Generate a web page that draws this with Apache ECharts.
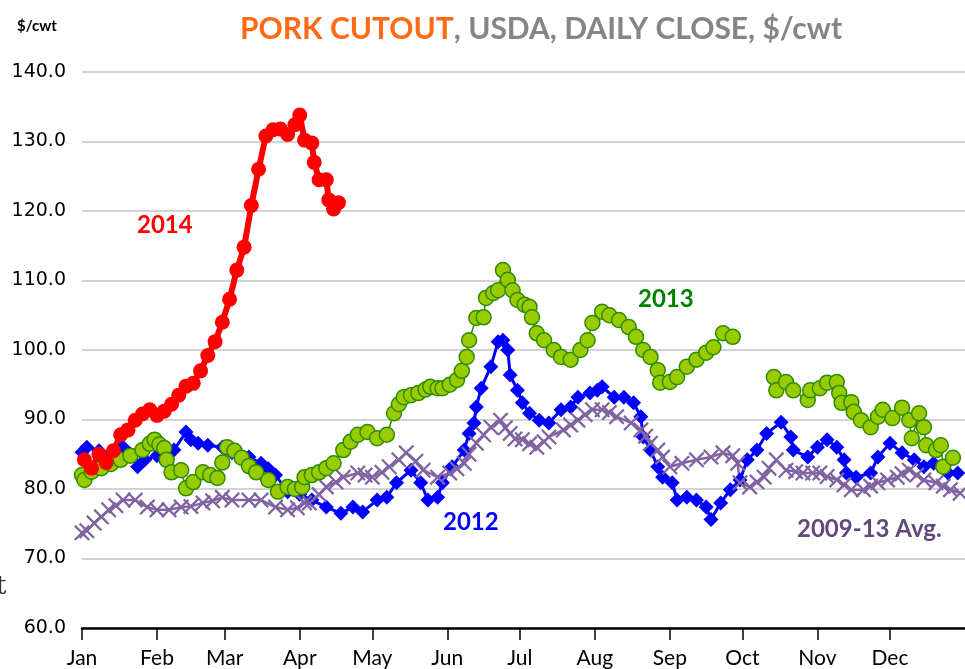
<!DOCTYPE html>
<html>
<head>
<meta charset="utf-8">
<script src="https://cdn.jsdelivr.net/npm/echarts@6/dist/echarts.min.js"></script>
<style>
  html, body { margin: 0; padding: 0; background: #fff; }
  #chart { width: 965px; height: 669px; }
</style>
</head>
<body>
<div id="chart"></div>
<script>
// month ticks (day of year where each month starts)
var months = ['Jan', 'Feb', 'Mar', 'Apr', 'May', 'Jun', 'Jul', 'Aug', 'Sep', 'Oct', 'Nov', 'Dec'];
var monthStart = [0, 31, 59, 90, 120, 151, 181, 212, 243, 273, 304, 334];

// 2014 daily close, $/cwt
var days2014 = [1, 4, 7, 10, 13, 16, 19, 22, 25, 28, 31, 34, 37, 40, 43, 46, 49, 52, 55, 58, 61, 64, 67, 70, 73, 76, 79, 82, 85, 88, 90, 92, 95, 96, 98, 101, 102, 104, 106];
var pork2014 = [84.2, 83.0, 85.0, 83.8, 85.5, 87.8, 88.5, 89.9, 90.8, 91.4, 90.6, 91.2, 92.2, 93.5, 94.8, 95.2, 97.0, 99.2, 101.2, 104.0, 107.3, 111.5, 114.8, 120.8, 126.0, 130.8, 131.7, 131.8, 131.0, 132.4, 133.8, 130.2, 129.8, 127.0, 124.5, 124.5, 121.6, 120.3, 121.2];

// 2013 (gap = no quotes in early October)
var days2013 = [0, 1, 4, 8, 12, 16, 20, 25, 28, 30, 32, 34, 35, 37, 41, 43, 46, 50, 53, 56, 58, 60, 63, 66, 69, 72, 77, 81, 85, 88, 91, 92, 95, 98, 101, 104, 108, 111, 114, 118, 122, 126, 129, 131, 133, 136, 139, 142, 144, 147, 149, 152, 155, 157, 159, 160, 163, 166, 167, 170, 172, 174, 176, 178, 180, 183, 185, 186, 188, 191, 195, 198, 202, 206, 209, 211, 215, 218, 222, 226, 229, 232, 235, 238, 239, 243, 246, 250, 254, 258, 261, 265, 269, 277, 286, 287, 291, 294, 300, 301, 305, 308, 312, 313, 314, 318, 319, 322, 326, 329, 331, 335, 339, 342, 343, 346, 348, 349, 353, 355, 356, 360];
var pork2013 = [82.0, 81.3, 82.5, 83.0, 83.6, 84.2, 84.8, 85.6, 86.5, 87.1, 86.4, 85.9, 84.2, 82.4, 82.7, 80.1, 81.0, 82.4, 82.0, 81.6, 83.8, 86.0, 85.5, 84.5, 83.3, 82.4, 81.3, 79.6, 80.3, 80.0, 80.3, 81.7, 82.0, 82.4, 83.0, 83.7, 85.6, 86.8, 87.8, 88.2, 87.3, 87.8, 90.9, 92.2, 93.2, 93.5, 93.8, 94.3, 94.7, 94.5, 94.5, 95.0, 95.7, 97.0, 99.0, 101.4, 104.6, 104.7, 107.5, 108.2, 108.6, 111.5, 110.1, 108.6, 107.2, 106.5, 106.2, 104.7, 102.4, 101.4, 100.0, 99.0, 98.6, 100.0, 101.4, 103.9, 105.5, 105.0, 104.3, 103.3, 101.9, 100.0, 99.0, 97.1, 95.3, 95.4, 96.1, 97.6, 98.6, 99.6, 100.4, 102.4, 101.9, null, 96.1, 94.2, 95.4, 94.2, 92.8, 94.2, 94.5, 95.3, 95.4, 93.8, 92.4, 92.5, 91.1, 89.9, 88.9, 90.4, 91.4, 90.2, 91.7, 89.9, 87.3, 90.9, 88.9, 86.3, 85.6, 86.3, 83.2, 84.5];

// 2012
var days2012 = [0, 2, 7, 12, 17, 20, 23, 26, 31, 36, 38, 43, 45, 48, 52, 58, 62, 65, 69, 74, 77, 80, 85, 90, 95, 101, 107, 112, 116, 122, 126, 130, 136, 140, 143, 147, 149, 153, 158, 160, 162, 163, 165, 169, 172, 174, 176, 177, 180, 182, 185, 189, 193, 198, 202, 205, 210, 213, 215, 220, 224, 228, 231, 232, 235, 238, 240, 244, 246, 250, 254, 258, 260, 264, 268, 272, 275, 279, 283, 289, 293, 294, 300, 304, 308, 312, 315, 316, 320, 326, 329, 334, 339, 344, 348, 352, 358, 362];
var pork2012 = [85.3, 86.0, 85.5, 85.0, 86.0, 85.0, 83.2, 84.2, 84.8, 85.2, 85.6, 88.2, 87.1, 86.6, 86.3, 86.0, 85.2, 84.8, 84.6, 83.7, 82.9, 82.0, 79.6, 79.2, 78.4, 77.4, 76.5, 77.4, 76.7, 78.4, 78.8, 80.9, 82.7, 80.9, 78.4, 78.8, 80.9, 83.2, 85.6, 88.0, 89.5, 91.8, 94.5, 97.6, 101.2, 101.4, 100.0, 96.4, 94.2, 92.4, 90.9, 89.9, 89.5, 91.4, 91.8, 93.2, 93.8, 94.2, 94.7, 93.2, 93.2, 92.4, 90.4, 87.5, 85.6, 83.2, 81.7, 80.9, 78.4, 78.8, 78.4, 77.4, 75.6, 78.0, 79.9, 81.3, 84.2, 85.6, 88.0, 89.6, 87.5, 85.6, 84.6, 86.0, 87.1, 86.0, 84.2, 82.3, 81.7, 82.3, 84.6, 86.6, 85.2, 84.2, 83.2, 83.7, 82.3, 82.3];

// 2009-13 average
var daysAvg = [0, 2, 5, 8, 11, 14, 17, 22, 27, 31, 36, 41, 45, 50, 54, 58, 62, 69, 74, 80, 85, 89, 92, 94, 98, 101, 105, 108, 114, 117, 120, 124, 127, 131, 134, 138, 141, 147, 152, 155, 158, 160, 163, 166, 169, 173, 175, 177, 179, 182, 185, 188, 191, 193, 199, 202, 205, 208, 211, 215, 218, 221, 227, 231, 233, 235, 238, 240, 243, 248, 254, 260, 265, 269, 271, 272, 276, 279, 282, 284, 287, 291, 295, 298, 302, 305, 308, 312, 315, 318, 323, 326, 329, 333, 337, 339, 342, 345, 348, 353, 356, 359, 363];
var porkAvg = [73.7, 74.0, 75.1, 76.0, 77.0, 77.6, 78.4, 78.4, 77.4, 77.0, 77.0, 77.4, 77.5, 78.0, 78.3, 78.8, 78.4, 78.4, 78.4, 77.4, 77.0, 77.3, 78.0, 78.0, 79.2, 80.3, 81.0, 81.7, 82.3, 82.0, 81.7, 82.4, 83.2, 84.2, 85.2, 84.0, 82.7, 81.7, 82.3, 82.9, 83.7, 85.0, 86.6, 87.8, 88.9, 89.9, 88.8, 88.0, 87.2, 87.1, 86.5, 86.0, 86.8, 87.5, 88.5, 89.2, 89.9, 90.7, 91.4, 91.4, 91.0, 90.4, 89.5, 88.5, 87.6, 86.6, 85.6, 84.6, 83.2, 83.7, 84.2, 84.6, 85.2, 84.8, 83.7, 80.9, 80.3, 81.0, 81.7, 83.0, 84.2, 82.7, 82.5, 82.3, 82.3, 82.3, 81.8, 81.3, 80.6, 79.9, 79.9, 80.4, 80.9, 81.3, 81.7, 82.2, 82.7, 82.0, 81.3, 80.9, 80.4, 79.9, 79.4];

function pairs(days, vals) {
  return days.map(function (d, i) {
    return [d, vals[i] === null ? '-' : vals[i]];
  });
}

// thin "x" marker like the spreadsheet one
var xMark = 'path://M0,1 L1,0 L5,4 L9,0 L10,1 L6,5 L10,9 L9,10 L5,6 L1,10 L0,9 L4,5 Z';

var chart = echarts.init(document.getElementById('chart'));

chart.setOption({
  animation: false,
  backgroundColor: '#fff',
  title: {
    text: '{a|PORK CUTOUT}{b|, USDA, DAILY CLOSE, $/cwt}',
    left: 536,
    top: 9,
    textAlign: 'center',
    textStyle: {
      rich: {
        a: { color: '#FF6A13', fontSize: 30, fontWeight: 'bold', fontFamily: 'Lato' },
        b: { color: '#858585', fontSize: 30, fontWeight: 'bold', fontFamily: 'Lato' }
      }
    }
  },
  grid: { left: 82, right: 0, top: 72, bottom: 41, containLabel: false },
  xAxis: {
    type: 'value',
    min: 0,
    max: 365,
    axisLine: { show: true, lineStyle: { color: '#000', width: 2.5 } },
    axisTick: { show: true, customValues: monthStart, length: 12, inside: false, lineStyle: { color: '#000', width: 1.5 } },
    axisLabel: {
      customValues: monthStart,
      margin: 20,
      color: '#000',
      fontSize: 21,
      fontFamily: 'Lato',
      formatter: function (v) { return months[monthStart.indexOf(v)]; }
    },
    splitLine: { show: false }
  },
  yAxis: {
    type: 'value',
    min: 60,
    max: 140,
    interval: 10,
    axisLine: { show: false },
    axisTick: { show: false },
    axisLabel: {
      color: '#000',
      fontSize: 19,
      fontFamily: 'DejaVu Sans',
      margin: 16,
      formatter: function (v) { return v.toFixed(1); }
    },
    splitLine: { lineStyle: { color: '#c4c4c4', width: 1.5 } }
  },
  series: [
    {
      name: '2012',
      type: 'line',
      data: pairs(days2012, pork2012),
      symbol: 'diamond',
      symbolSize: 15,
      showAllSymbol: true,
      lineStyle: { color: '#0000FF', width: 3 },
      itemStyle: { color: '#0000FF' }
    },
    {
      name: '2009-13 Avg.',
      type: 'line',
      data: pairs(daysAvg, porkAvg),
      symbol: xMark,
      symbolSize: 16,
      showAllSymbol: true,
      lineStyle: { color: '#8064A2', width: 2.5 },
      itemStyle: { color: '#8064A2' }
    },
    {
      name: '2013',
      type: 'line',
      data: pairs(days2013, pork2013),
      connectNulls: false,
      symbol: 'circle',
      symbolSize: 15,
      showAllSymbol: true,
      lineStyle: { color: '#2E8B00', width: 1.5 },
      itemStyle: { color: '#99CC00', borderColor: '#2E8B00', borderWidth: 1.5 }
    },
    {
      name: '2014',
      type: 'line',
      data: pairs(days2014, pork2014),
      symbol: 'circle',
      symbolSize: 15,
      showAllSymbol: true,
      lineStyle: { color: '#FF0000', width: 6 },
      itemStyle: { color: '#FF0000' }
    }
  ],
  graphic: [
    {
      type: 'text', left: 17, top: 19,
      style: { text: '$/cwt', fill: '#000', font: 'bold 15px Lato' }
    },
    {
      type: 'text', left: 131, top: 211,
      style: { text: '2014', fill: '#FF0000', font: 'bold 24px Lato', backgroundColor: '#fff', padding: [2, 6] }
    },
    {
      type: 'text', left: 638, top: 287,
      style: { text: '2013', fill: '#008000', font: 'bold 24px Lato' }
    },
    {
      type: 'text', left: 443, top: 510,
      style: { text: '2012', fill: '#0000FF', font: 'bold 24px Lato' }
    },
    {
      type: 'text', left: 797, top: 517,
      style: { text: '2009-13 Avg.', fill: '#604A7B', font: 'bold 24px Lato' }
    },
    {
      type: 'text', left: -4, top: 574,
      style: { text: 't', fill: '#333', font: '26px "DejaVu Serif"' }
    }
  ]
});
</script>
</body>
</html>
